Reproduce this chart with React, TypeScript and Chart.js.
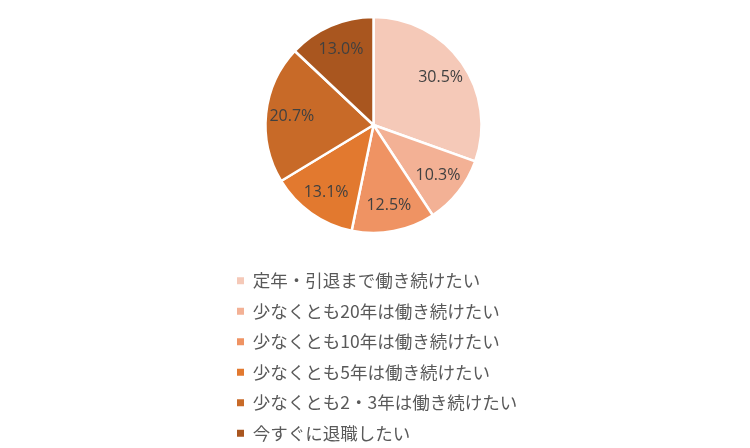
import { useEffect, useRef } from 'react'
import Chart from 'chart.js/auto'

const categories = [
  '定年・引退まで働き続けたい',
  '少なくとも20年は働き続けたい',
  '少なくとも10年は働き続けたい',
  '少なくとも5年は働き続けたい',
  '少なくとも2・3年は働き続けたい',
  '今すぐに退職したい'
]
const shares = [30.5, 10.3, 12.5, 13.1, 20.7, 13.0]
const sliceColors = ['#F5C9B8', '#F3B195', '#EF9363', '#E2792F', '#C86A28', '#A9561F']

// draws the percent text inside each slice
const sliceLabels = {
  id: 'sliceLabels',
  afterDatasetsDraw(chart: any) {
    const { ctx } = chart
    const meta = chart.getDatasetMeta(0)
    ctx.save()
    ctx.font = '16px "Open Sans"'
    ctx.fillStyle = '#404040'
    ctx.textAlign = 'center'
    ctx.textBaseline = 'middle'
    meta.data.forEach((arc: any, i: number) => {
      const { x, y, startAngle, endAngle, outerRadius } = arc.getProps(
        ['x', 'y', 'startAngle', 'endAngle', 'outerRadius'],
        true
      )
      const mid = (startAngle + endAngle) / 2
      const d = outerRadius * 0.76
      ctx.fillText(shares[i].toFixed(1) + '%', x + Math.cos(mid) * d, y + Math.sin(mid) * d)
    })
    ctx.restore()
  }
}

export default function App() {
  const canvasRef = useRef<HTMLCanvasElement>(null)
  const chartRef = useRef<Chart | null>(null)

  useEffect(() => {
    document.body.style.margin = '0'
    document.body.style.overflow = 'hidden'
    if (!canvasRef.current) return
    if (chartRef.current) chartRef.current.destroy()

    const baseLabels = (Chart as any).overrides.pie.plugins.legend.labels.generateLabels

    chartRef.current = new Chart(canvasRef.current, {
      type: 'pie',
      data: {
        labels: categories,
        datasets: [
          {
            data: shares,
            backgroundColor: sliceColors,
            borderColor: '#ffffff',
            borderWidth: 2.5,
            radius: 108
          }
        ]
      },
      options: {
        animation: false,
        responsive: true,
        maintainAspectRatio: false,
        layout: {
          padding: { top: 0, bottom: 0, left: 224, right: 227 }
        },
        plugins: {
          tooltip: { enabled: false },
          legend: {
            position: 'bottom',
            align: 'start',
            labels: {
              boxWidth: 7,
              boxHeight: 7,
              padding: 13,
              color: '#595959',
              font: { family: '"Noto Sans CJK JP"', size: 17.5 },
              generateLabels: (chart: any) =>
                baseLabels(chart).map((item: any) => ({ ...item, lineWidth: 0 }))
            }
          }
        }
      },
      plugins: [sliceLabels]
    })

    return () => {
      if (chartRef.current) {
        chartRef.current.destroy()
        chartRef.current = null
      }
    }
  }, [])

  return (
    <div style={{ width: 750, height: 448, overflow: 'hidden', background: '#fff' }}>
      <div style={{ position: 'relative', width: 750, height: 461, marginTop: -9 }}>
        <canvas ref={canvasRef} />
      </div>
    </div>
  )
}
